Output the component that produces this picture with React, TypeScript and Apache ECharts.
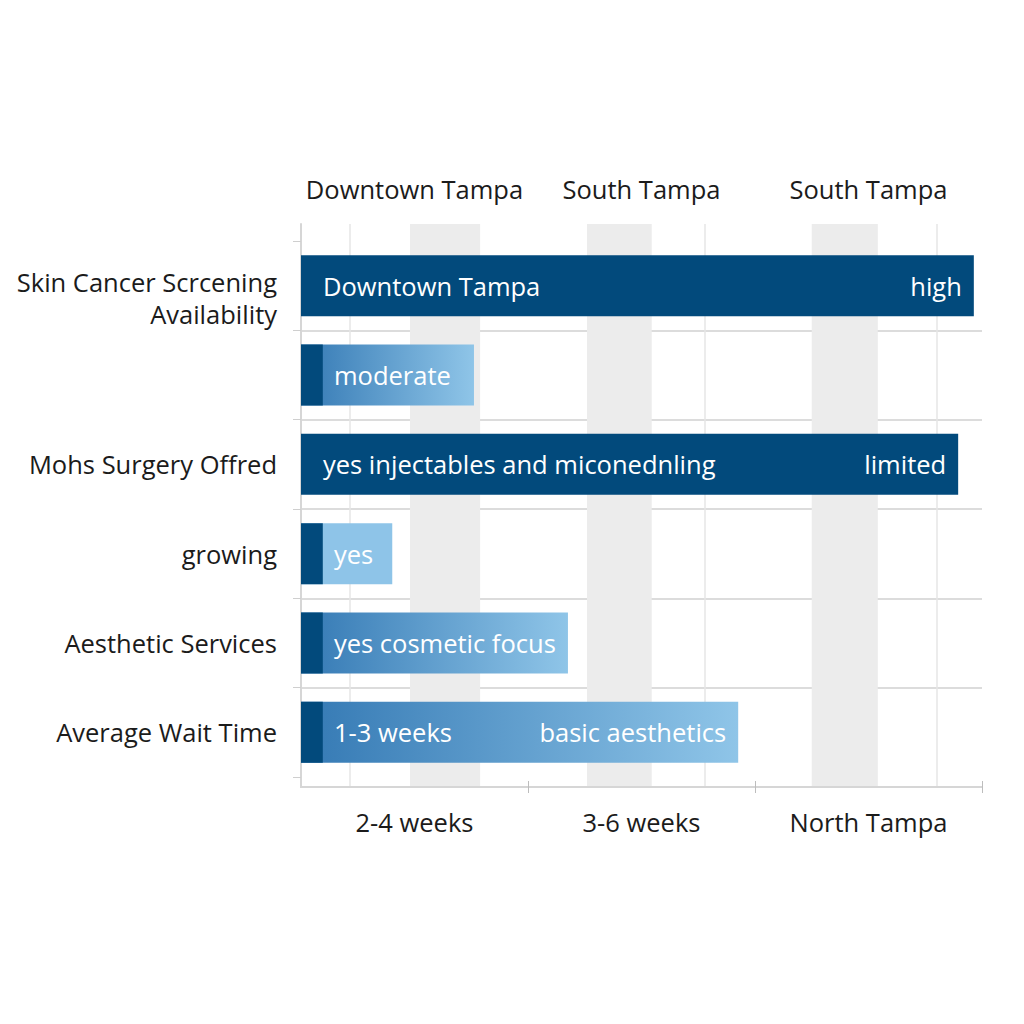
import React, { useEffect, useRef } from "react";
import * as echarts from "echarts";

const rowLabels = [
  "Skin Cancer Scrcening\nAvailability",
  "",
  "Mohs Surgery Offred",
  "growing",
  "Aesthetic Services",
  "Average Wait Time",
];
const topLabels = ["Downtown Tampa", "South Tampa", "South Tampa"];
const bottomLabels = ["2-4 weeks", "3-6 weeks", "North Tampa"];
const barValues = [98.8, 25.4, 96.5, 13.4, 39.2, 64.2];
const barKinds = ["dark", "gradient", "dark", "light", "gradient", "gradient"];
const leftTexts = [
  "Downtown Tampa",
  "moderate",
  "yes injectables and miconednling",
  "yes",
  "yes cosmetic focus",
  "1-3 weeks",
];
const rightTexts = ["high", "", "limited", "", "", "basic aesthetics"];
const accentValue = 3.2;
const gridLineValues = [7.2, 59.3, 93.4];
const shadedBands = [
  [16.0, 26.3],
  [42.0, 51.5],
  [75.0, 84.7],
];

const NAVY = "#024a7c";
const LIGHT = "#8ec4e8";
const FONT = "Open Sans";
const TEXT = "#1b1b1b";
const FS = 25.5;

export default function App() {
  const ref = useRef<HTMLDivElement>(null);
  useEffect(() => {
    if (!ref.current) return;
    const chart = echarts.init(ref.current, null, { renderer: "svg" });
    const grad = () =>
      new echarts.graphic.LinearGradient(0, 0, 1, 0, [
        { offset: 0, color: "#3479b4" },
        { offset: 1, color: "#8fc5e8" },
      ]);
    const colorFor = (k: string) => (k === "dark" ? NAVY : k === "light" ? LIGHT : grad());
    const axisLabelBase = { fontFamily: FONT, fontSize: FS, color: TEXT };
    const option: any = {
      animation: false,
      backgroundColor: "#ffffff",
      grid: [
        { left: 301, right: 42, top: 224, height: 563 },
        { left: 301, right: 42, top: 241, height: 536 },
      ],
      xAxis: [
        {
          gridIndex: 0,
          type: "category",
          position: "top",
          data: topLabels,
          axisLine: { lineStyle: { color: "#d6d6d6", width: 2 } },
          axisTick: { show: true, length: 6, interval: (i: number) => i !== 0, lineStyle: { color: "#bdbdbd" } },
          axisLabel: { ...axisLabelBase, margin: 22, interval: 0, hideOverlap: false },
          splitLine: { show: false },
        },
        {
          gridIndex: 0,
          type: "category",
          position: "bottom",
          data: bottomLabels,
          axisLine: { lineStyle: { color: "#d6d6d6", width: 2 } },
          axisTick: { show: true, length: 6, interval: (i: number) => i !== 0, lineStyle: { color: "#bdbdbd" } },
          axisLabel: { ...axisLabelBase, margin: 22, interval: 0, hideOverlap: false },
          splitLine: { show: false },
        },
        { gridIndex: 0, type: "value", min: 0, max: 100, show: false },
        { gridIndex: 1, type: "value", min: 0, max: 100, show: false },
      ],
      yAxis: [
        {
          gridIndex: 0,
          type: "value",
          min: 0,
          max: 1,
          axisLine: { show: true, lineStyle: { color: "#d6d6d6", width: 2 } },
          axisTick: { show: false },
          axisLabel: { show: false },
          splitLine: { show: false },
        },
        {
          gridIndex: 1,
          type: "category",
          inverse: true,
          data: rowLabels,
          axisLine: { show: false },
          axisTick: { show: true, length: 8, lineStyle: { color: "#cfcfcf" } },
          axisLabel: {
            ...axisLabelBase,
            margin: 24,
            interval: 0,
            align: "right",
            formatter: (v: string) => {
              const parts = v.split("\n");
              if (parts.length > 1) {
                return `{first|${parts[0]}}\n{second|${parts.slice(1).join("\n")}}`;
              }
              return `{n|${v}}`;
            },
            rich: {
              first: { fontFamily: FONT, fontSize: FS, color: TEXT, lineHeight: 56, verticalAlign: "bottom" },
              second: { fontFamily: FONT, fontSize: FS, color: TEXT, lineHeight: 38 },
              n: { fontFamily: FONT, fontSize: FS, color: TEXT, lineHeight: 32 },
            },
          },
          splitLine: {
            show: true,
            showMinLine: false,
            showMaxLine: false,
            lineStyle: { color: "#dcdcdc", width: 2 },
          },
        },
      ],
      series: [
        {
          type: "line",
          xAxisIndex: 2,
          yAxisIndex: 0,
          data: [[0, 0]],
          symbol: "none",
          silent: true,
          z: 0,
          lineStyle: { opacity: 0 },
          markArea: {
            silent: true,
            z: 0,
            itemStyle: { color: "#ececec" },
            data: shadedBands.map(([a, b]) => [{ xAxis: a }, { xAxis: b }]),
          },
          markLine: {
            silent: true,
            z: 0,
            symbol: "none",
            label: { show: false },
            lineStyle: { color: "#e6e6e6", width: 1.5, type: "solid" },
            data: gridLineValues.map((v) => ({ xAxis: v })),
          },
        },
        {
          type: "bar",
          name: "main",
          xAxisIndex: 3,
          yAxisIndex: 1,
          barWidth: 61,
          barGap: "-100%",
          z: 2,
          data: barValues.map((v, i) => ({
            value: v,
            itemStyle: { color: colorFor(barKinds[i]) },
          })),
          label: {
            show: true,
            position: "insideRight",
            distance: 12,
            fontFamily: FONT,
            fontSize: FS,
            color: "#ffffff",
            formatter: (p: any) => rightTexts[p.dataIndex],
          },
        },
        {
          type: "bar",
          name: "accent",
          xAxisIndex: 3,
          yAxisIndex: 1,
          barWidth: 61,
          barGap: "-100%",
          z: 3,
          itemStyle: { color: NAVY },
          data: barKinds.map((k) => (k === "dark" ? "-" : accentValue)),
        },
        {
          type: "bar",
          name: "labels",
          xAxisIndex: 3,
          yAxisIndex: 1,
          barWidth: 61,
          barGap: "-100%",
          z: 4,
          itemStyle: { color: "rgba(0,0,0,0)" },
          data: barValues.map((v, i) => ({
            value: v,
            label: { distance: barKinds[i] === "dark" ? 22 : 33 },
          })),
          label: {
            show: true,
            position: "insideLeft",
            fontFamily: FONT,
            fontSize: FS,
            color: "#ffffff",
            formatter: (p: any) => leftTexts[p.dataIndex],
          },
        },
      ],
    };
    chart.setOption(option);
    return () => chart.dispose();
  }, []);
  return <div ref={ref} style={{ width: 1024, height: 1024, margin: -8 }} />;
}
